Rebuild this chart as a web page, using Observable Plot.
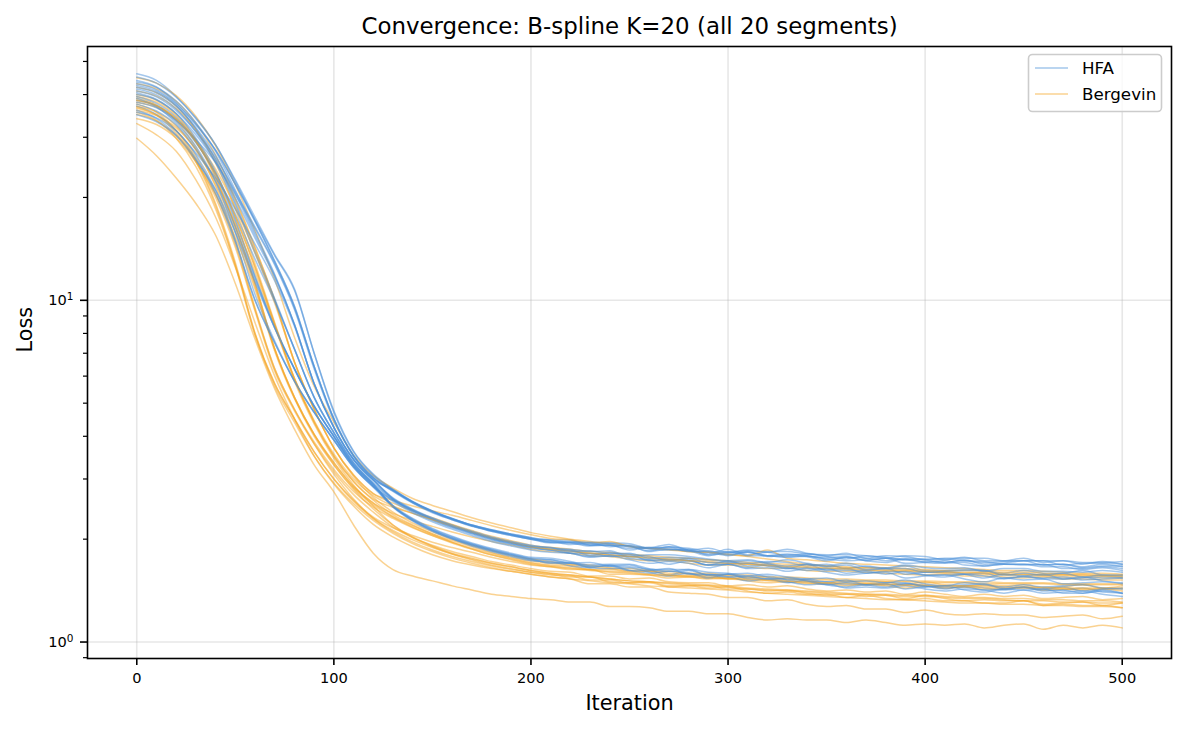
<!DOCTYPE html>
<html>
<head>
<meta charset="utf-8">
<script src="https://cdn.jsdelivr.net/npm/d3@7"></script>
<script src="https://cdn.jsdelivr.net/npm/@observablehq/plot@0.6"></script>
<style>
  body { margin: 0; background: #fff; }
  #chart svg { font-family: "DejaVu Sans", sans-serif; display: block; }
</style>
</head>
<body>
<div id="chart"></div>
<script>
// Optimisation iterations at which the loss was logged
const iterations = [0,10,20,30,40,50,60,70,80,90,100,110,120,130,140,150,160,170,180,190,200,
  210,220,230,240,250,260,270,280,290,300,310,320,330,340,350,360,370,380,390,400,
  410,420,430,440,450,460,470,480,490,500];

// Loss per segment, HFA fits (20 segments)
const hfaRuns = [
  [46,44,39.5,34,28.5,22.5,17.5,13.6,10.8,7.0,4.75,3.62,3.1, 2.8,2.58,2.42,2.3,2.2,2.13,2.07,2.02, 1.99,1.99,1.92,1.95,1.91,1.85,1.90,1.86,1.81,1.87,1.80,1.83,1.79,1.81,1.78,1.75,1.79,1.77,1.74,1.75,1.75,1.73,1.71,1.72,1.73,1.73,1.68,1.70,1.70,1.69],
  [45,43.2,39.3,34.2,28.5,22.3,17.1,13.0,9.6,6.4,4.5,3.52,3.04, 2.78,2.57,2.41,2.29,2.2,2.12,2.06,2.01, 1.99,1.96,1.96,1.95,1.94,1.88,1.90,1.88,1.84,1.83,1.86,1.83,1.87,1.82,1.79,1.82,1.76,1.79,1.78,1.74,1.76,1.76,1.76,1.73,1.73,1.73,1.73,1.71,1.71,1.72],
  [44,42.1,37.8,32.6,27.5,21.9,17.2,13.5,10.7,7.0,4.7,3.6,3.08, 2.79,2.57,2.41,2.29,2.19,2.12,2.06,2.01, 1.96,1.96,1.93,1.92,1.88,1.88,1.89,1.84,1.85,1.80,1.84,1.79,1.81,1.79,1.75,1.77,1.76,1.73,1.76,1.74,1.71,1.74,1.69,1.70,1.73,1.68,1.69,1.66,1.69,1.66],
  [43.5,42,38.3,33.1,27.3,21,15.8,11.9,8.5,5.7,4.25,3.42,2.98, 2.62,2.43,2.29,2.18,2.09,2.01,1.95,1.9, 1.89,1.85,1.81,1.82,1.81,1.78,1.73,1.76,1.74,1.72,1.70,1.72,1.71,1.67,1.69,1.64,1.67,1.64,1.67,1.62,1.62,1.63,1.62,1.59,1.62,1.59,1.59,1.62,1.57,1.56],
  [43,41.3,37.6,32.8,27.5,21.8,17,13.0,9.6,6.4,4.5,3.5,3.02, 2.78,2.56,2.41,2.29,2.19,2.12,2.06,2.0, 1.98,1.93,1.95,1.90,1.92,1.87,1.86,1.87,1.80,1.82,1.83,1.79,1.78,1.78,1.77,1.78,1.73,1.76,1.74,1.72,1.71,1.73,1.72,1.69,1.69,1.68,1.69,1.65,1.67,1.67],
  [42.5,40.9,37.2,31.8,25.8,19.3,13.9,10.1,7.2,5.2,4.1,3.35,2.93, 2.62,2.43,2.29,2.18,2.09,2.01,1.95,1.9, 1.86,1.86,1.79,1.83,1.76,1.74,1.75,1.74,1.68,1.73,1.67,1.69,1.64,1.69,1.62,1.62,1.62,1.64,1.58,1.60,1.60,1.58,1.54,1.58,1.56,1.58,1.53,1.54,1.55,1.54],
  [42,40.5,37,32,26.5,20.5,15.5,11.8,8.5,5.7,4.25,3.42,2.98, 2.79,2.57,2.42,2.3,2.2,2.13,2.07,2.02, 1.97,1.97,1.95,1.94,1.90,1.89,1.93,1.86,1.88,1.83,1.85,1.84,1.84,1.81,1.80,1.80,1.79,1.76,1.79,1.78,1.74,1.77,1.73,1.73,1.76,1.71,1.73,1.69,1.72,1.69],
  [41.5,39.9,36.3,31.1,25.3,19,13.7,10,7.2,5.2,4.1,3.35,2.9, 2.5,2.28,2.13,2.02,1.93,1.86,1.8,1.75, 1.74,1.70,1.66,1.67,1.66,1.63,1.57,1.62,1.57,1.58,1.54,1.56,1.52,1.50,1.50,1.47,1.47,1.47,1.48,1.46,1.43,1.46,1.44,1.42,1.44,1.42,1.42,1.44,1.40,1.39],
  [41,39.4,35.9,31.2,26.1,20.8,16.4,12.8,9.5,6.4,4.5,3.5,3.02, 2.77,2.56,2.4,2.28,2.19,2.11,2.05,2.0, 1.96,1.95,1.91,1.92,1.91,1.84,1.87,1.85,1.79,1.84,1.79,1.79,1.77,1.79,1.75,1.73,1.74,1.76,1.70,1.71,1.73,1.68,1.67,1.69,1.68,1.69,1.64,1.64,1.66,1.64],
  [40.5,38.7,35.2,29.8,23.8,17.3,11.8,8.4,6.3,4.9,4.0,3.3,2.9, 2.6,2.42,2.28,2.17,2.08,2.0,1.94,1.89, 1.86,1.82,1.82,1.78,1.80,1.73,1.74,1.73,1.68,1.69,1.70,1.67,1.64,1.65,1.63,1.64,1.59,1.61,1.60,1.57,1.57,1.58,1.59,1.54,1.55,1.54,1.55,1.52,1.53,1.54],
  [40,38.6,35.2,30.5,25.4,19.9,15.2,11.7,8.5,5.7,4.25,3.42,2.98, 2.64,2.45,2.31,2.2,2.11,2.03,1.97,1.92, 1.88,1.87,1.84,1.85,1.78,1.80,1.80,1.78,1.75,1.73,1.74,1.71,1.74,1.70,1.67,1.70,1.66,1.65,1.68,1.65,1.64,1.65,1.61,1.64,1.64,1.61,1.61,1.60,1.62,1.60],
  [39.5,37.7,34.3,29.1,23.3,17,11.7,8.3,6.3,4.9,4.0,3.28,2.87, 2.49,2.27,2.12,2.01,1.92,1.85,1.79,1.74, 1.71,1.71,1.65,1.68,1.62,1.59,1.61,1.59,1.54,1.58,1.53,1.53,1.49,1.52,1.47,1.45,1.47,1.48,1.43,1.45,1.46,1.42,1.40,1.43,1.42,1.43,1.39,1.39,1.41,1.39],
  [39,36.8,33,28.2,22.2,15.8,10.4,7.6,5.8,4.7,3.9,3.25,2.85, 2.6,2.41,2.27,2.16,2.07,1.99,1.93,1.88, 1.86,1.82,1.78,1.79,1.78,1.74,1.69,1.73,1.68,1.69,1.65,1.68,1.65,1.62,1.64,1.59,1.61,1.58,1.61,1.57,1.55,1.58,1.56,1.53,1.56,1.53,1.53,1.55,1.51,1.49],
  [38.5,37.1,33.7,28.9,23.6,17.9,13.2,9.9,7.2,5.2,4.1,3.33,2.9, 2.5,2.29,2.14,2.03,1.94,1.87,1.81,1.76, 1.74,1.70,1.71,1.67,1.68,1.63,1.63,1.63,1.57,1.58,1.59,1.55,1.52,1.53,1.50,1.52,1.47,1.49,1.49,1.45,1.46,1.47,1.48,1.43,1.45,1.43,1.45,1.41,1.43,1.44],
  [38,36.6,33.5,29.5,25.3,20.4,16.2,12.7,9.4,6.3,4.45,3.5,3.02, 2.76,2.55,2.39,2.28,2.18,2.11,2.05,2.0, 1.95,1.95,1.92,1.92,1.86,1.89,1.87,1.85,1.83,1.79,1.83,1.78,1.80,1.78,1.73,1.77,1.73,1.71,1.75,1.71,1.70,1.71,1.67,1.69,1.69,1.66,1.66,1.63,1.65,1.62],
  [37.5,35.8,32.6,27.7,22.3,16.4,11.5,8.3,6.3,4.9,4.0,3.28,2.86, 2.48,2.26,2.11,2.0,1.91,1.84,1.78,1.73, 1.72,1.67,1.65,1.64,1.65,1.60,1.56,1.59,1.55,1.55,1.51,1.53,1.50,1.47,1.48,1.44,1.45,1.44,1.46,1.43,1.41,1.43,1.42,1.39,1.42,1.39,1.40,1.41,1.38,1.36],
  [37,35,31.4,26.7,21,15,10,7.5,5.8,4.7,3.9,3.24,2.84, 2.49,2.27,2.12,2.01,1.93,1.86,1.8,1.75, 1.70,1.70,1.67,1.67,1.62,1.62,1.64,1.58,1.58,1.55,1.56,1.53,1.54,1.51,1.47,1.49,1.47,1.45,1.48,1.46,1.44,1.45,1.42,1.43,1.45,1.41,1.42,1.39,1.42,1.39],
  [36,34,30.5,26,20.5,14.8,10,7.5,5.8,4.7,3.9,3.25,2.85, 2.58,2.39,2.25,2.14,2.05,1.97,1.91,1.86, 1.83,1.82,1.77,1.79,1.74,1.70,1.72,1.70,1.65,1.69,1.64,1.65,1.61,1.64,1.60,1.57,1.59,1.60,1.54,1.56,1.57,1.53,1.50,1.54,1.52,1.53,1.48,1.49,1.50,1.48],
  [35.5,34.2,31.3,27,22.8,18.5,14.6,11.4,8.4,5.7,4.25,3.42,2.98, 2.63,2.44,2.3,2.19,2.1,2.02,1.96,1.91, 1.89,1.84,1.85,1.81,1.82,1.76,1.77,1.76,1.71,1.71,1.73,1.70,1.67,1.69,1.66,1.68,1.63,1.64,1.64,1.60,1.61,1.62,1.62,1.57,1.59,1.57,1.59,1.55,1.57,1.57],
  [34.9,33.3,30.3,25.7,21,15.8,11.3,8.3,6.3,4.9,4.0,3.3,2.88, 2.51,2.3,2.15,2.04,1.95,1.88,1.82,1.77, 1.76,1.72,1.68,1.69,1.69,1.64,1.61,1.63,1.60,1.59,1.56,1.58,1.55,1.53,1.54,1.50,1.51,1.49,1.52,1.48,1.46,1.49,1.47,1.45,1.47,1.45,1.46,1.47,1.44,1.43]
];

// Loss per segment, Bergevin fits (20 segments)
const bergevinRuns = [
  [44.8,43.2,39.7,34.5,28.3,21.8,16,11.5,7.8,5.6,4.4,3.52,3.07, 2.82,2.63,2.51,2.41,2.31,2.23,2.16,2.09, 2.04,2.0,1.97,1.93,1.91,1.88,1.87,1.84,1.83,1.80,1.78,1.75,1.72,1.69,1.67,1.65,1.65,1.63,1.63,1.61,1.61,1.59,1.60,1.58,1.58,1.57,1.57,1.56,1.56,1.55],
  [43,41.6,38.2,33,26.6,19.9,14.3,10,6.6,4.8,3.7,3.08,2.72, 2.6,2.5,2.42,2.35,2.27,2.19,2.12,2.06, 2.01,1.99,1.95,1.97,1.90,1.88,1.86,1.84,1.83,1.81,1.79,1.86,1.76,1.74,1.72,1.70,1.69,1.68,1.67,1.66,1.65,1.64,1.63,1.62,1.62,1.61,1.60,1.59,1.59,1.58],
  [42,40.5,37,31.6,25.2,18.5,12.8,8.6,5.9,4.4,3.5,2.95,2.62, 2.48,2.38,2.29,2.2,2.1,2.02,1.96,1.9, 1.87,1.85,1.82,1.80,1.78,1.77,1.74,1.73,1.71,1.70,1.69,1.67,1.66,1.65,1.64,1.63,1.62,1.61,1.61,1.60,1.59,1.58,1.58,1.57,1.56,1.56,1.55,1.55,1.54,1.54],
  [41,39.6,36.4,31.5,25.8,19.6,14.2,10,6.6,4.8,3.7,3.08,2.72, 2.55,2.42,2.31,2.21,2.12,2.04,1.98,1.92, 1.89,1.87,1.84,1.83,1.80,1.79,1.77,1.76,1.74,1.73,1.71,1.70,1.69,1.68,1.67,1.66,1.65,1.65,1.64,1.63,1.62,1.62,1.61,1.60,1.60,1.59,1.58,1.58,1.57,1.57],
  [40,38.5,35,29.5,23,16.5,11.2,7.2,5.2,4.05,3.35,2.85,2.55, 2.38,2.27,2.18,2.1,2.03,1.97,1.92,1.87, 1.84,1.82,1.79,1.78,1.75,1.73,1.73,1.70,1.68,1.68,1.66,1.64,1.65,1.62,1.61,1.61,1.60,1.59,1.58,1.57,1.58,1.56,1.56,1.55,1.54,1.55,1.53,1.53,1.52,1.52],
  [39.5,38,34.6,29.2,22.8,16.4,11.2,7.2,5.2,4.05,3.35,2.85,2.55, 2.33,2.19,2.07,1.98,1.9,1.83,1.77,1.73, 1.70,1.68,1.66,1.64,1.62,1.61,1.59,1.58,1.57,1.56,1.55,1.54,1.53,1.52,1.52,1.51,1.51,1.50,1.50,1.49,1.49,1.49,1.48,1.48,1.48,1.48,1.47,1.47,1.47,1.47],
  [39,37.3,33.5,28,21.5,15,9.5,6.3,4.8,3.85,3.2,2.76,2.48, 2.3,2.16,2.05,1.96,1.88,1.82,1.76,1.71, 1.68,1.67,1.63,1.63,1.61,1.61,1.57,1.56,1.57,1.53,1.55,1.52,1.54,1.51,1.49,1.51,1.49,1.50,1.47,1.50,1.47,1.46,1.47,1.46,1.47,1.44,1.45,1.47,1.44,1.46],
  [38.5,37.1,34,29.1,23.5,17.6,12.5,8.5,5.9,4.4,3.5,2.95,2.6, 2.36,2.2,2.07,1.96,1.87,1.8,1.74,1.69, 1.66,1.64,1.62,1.60,1.59,1.57,1.56,1.55,1.54,1.53,1.52,1.51,1.50,1.49,1.48,1.48,1.47,1.47,1.46,1.46,1.45,1.45,1.45,1.44,1.44,1.44,1.43,1.43,1.43,1.43],
  [38,36.7,33.8,29.4,24.2,18.7,13.8,9.8,6.6,4.8,3.7,3.05,2.65, 2.4,2.23,2.1,2.0,1.92,1.85,1.79,1.75, 1.72,1.69,1.68,1.65,1.64,1.62,1.61,1.59,1.59,1.57,1.57,1.55,1.55,1.54,1.53,1.53,1.52,1.52,1.51,1.51,1.50,1.50,1.50,1.49,1.49,1.49,1.48,1.48,1.48,1.48],
  [37.5,35.5,31.4,25.8,19.2,12.9,8.0,5.7,4.5,3.6,3.0,2.6,2.32, 2.16,2.05,1.96,1.89,1.83,1.77,1.72,1.68, 1.66,1.63,1.63,1.58,1.58,1.57,1.54,1.55,1.53,1.54,1.51,1.49,1.50,1.48,1.48,1.46,1.48,1.46,1.44,1.46,1.44,1.45,1.43,1.43,1.45,1.42,1.43,1.42,1.43,1.41],
  [37,35.6,32.4,27.5,21.8,16,11,7.2,5.2,4.05,3.3,2.8,2.45, 2.2,2.03,1.91,1.82,1.76,1.7,1.66,1.62, 1.59,1.57,1.55,1.53,1.51,1.50,1.49,1.48,1.47,1.46,1.44,1.43,1.42,1.41,1.40,1.39,1.38,1.38,1.37,1.37,1.36,1.35,1.35,1.34,1.34,1.33,1.33,1.32,1.32,1.31],
  [36.5,34.9,31.4,26.4,20.5,14.6,9.4,6.3,4.8,3.8,3.1,2.62,2.3, 2.1,1.96,1.86,1.78,1.72,1.67,1.63,1.6, 1.57,1.56,1.52,1.52,1.49,1.50,1.46,1.46,1.46,1.43,1.43,1.41,1.42,1.39,1.37,1.38,1.36,1.37,1.34,1.37,1.34,1.32,1.33,1.32,1.32,1.29,1.30,1.31,1.28,1.30],
  [36,34.7,32,27.6,22.4,16.8,12.1,8.4,5.8,4.35,3.45,2.88,2.5, 2.2,2.02,1.9,1.81,1.74,1.68,1.64,1.6, 1.58,1.55,1.55,1.50,1.49,1.49,1.45,1.46,1.44,1.45,1.41,1.39,1.40,1.38,1.38,1.35,1.37,1.34,1.33,1.34,1.32,1.32,1.30,1.30,1.32,1.28,1.29,1.28,1.28,1.26],
  [35.5,33.6,29.8,24.6,18.5,12.6,7.9,5.7,4.5,3.6,3.0,2.58,2.3, 2.12,1.99,1.89,1.81,1.75,1.7,1.66,1.62, 1.59,1.57,1.55,1.53,1.51,1.50,1.48,1.47,1.46,1.45,1.43,1.42,1.41,1.40,1.39,1.38,1.38,1.37,1.36,1.36,1.35,1.34,1.34,1.33,1.32,1.32,1.31,1.31,1.30,1.30],
  [35,33.5,30.3,25.6,20,14.3,9.3,6.2,4.75,3.8,3.15,2.7,2.4, 2.17,2.02,1.92,1.84,1.78,1.72,1.68,1.64, 1.61,1.60,1.56,1.56,1.53,1.54,1.50,1.49,1.49,1.46,1.47,1.45,1.46,1.43,1.41,1.42,1.40,1.41,1.38,1.40,1.38,1.36,1.38,1.36,1.37,1.34,1.35,1.36,1.33,1.34],
  [34,32.7,29.8,25.4,20.4,15.3,10.8,7.1,5.15,4.0,3.3,2.82,2.52, 2.32,2.17,2.05,1.95,1.87,1.8,1.75,1.7, 1.67,1.65,1.63,1.61,1.60,1.58,1.57,1.56,1.55,1.54,1.53,1.52,1.51,1.50,1.49,1.49,1.48,1.48,1.47,1.47,1.46,1.46,1.46,1.45,1.45,1.45,1.44,1.44,1.44,1.44],
  [38.5,37.1,34,29.1,23.5,17.6,12.5,8.5,5.9,4.45,3.55,3.0,2.68, 2.5,2.38,2.28,2.19,2.1,2.02,1.96,1.9, 1.87,1.84,1.82,1.80,1.78,1.76,1.75,1.73,1.72,1.70,1.69,1.68,1.67,1.66,1.65,1.64,1.63,1.62,1.62,1.61,1.60,1.60,1.59,1.58,1.58,1.57,1.57,1.57,1.56,1.56],
  [36.8,34.8,30.8,25.4,18.9,12.7,8.0,5.6,4.4,3.5,2.92,2.54,2.27, 2.08,1.94,1.84,1.76,1.7,1.65,1.61,1.58, 1.55,1.53,1.51,1.49,1.48,1.46,1.45,1.44,1.43,1.42,1.40,1.39,1.38,1.37,1.36,1.35,1.34,1.33,1.33,1.32,1.31,1.30,1.30,1.29,1.29,1.28,1.28,1.27,1.27,1.26],
  [32.9,30.5,27.3,22.5,17.5,12.5,8.6,6.0,4.5,3.5,2.9,2.5,2.21, 2.03,1.9,1.8,1.73,1.68,1.64,1.61,1.58, 1.55,1.53,1.48,1.48,1.45,1.45,1.40,1.39,1.38,1.35,1.35,1.32,1.33,1.29,1.27,1.28,1.25,1.25,1.22,1.24,1.21,1.20,1.21,1.20,1.20,1.18,1.19,1.20,1.17,1.19],
  [29.8,26.5,22.8,19.2,15.5,11.2,7.7,5.5,4.2,3.3,2.75,2.2,1.82, 1.63,1.56,1.51,1.46,1.42,1.38,1.36,1.34, 1.33,1.31,1.31,1.27,1.27,1.26,1.23,1.23,1.21,1.21,1.18,1.16,1.17,1.16,1.16,1.14,1.16,1.14,1.12,1.13,1.12,1.13,1.10,1.12,1.13,1.09,1.12,1.10,1.12,1.10]
];

const methods = ["HFA", "Bergevin"];
const methodColors = ["#4a90d9", "#f5a623"];
const xTicks = [0, 100, 200, 300, 400, 500];
const yMajorTicks = [1, 10];
const yMinorTicks = [0.9, 2, 3, 4, 5, 6, 7, 8, 9, 20, 30, 40, 50];

// Long-format rows, one line per (method, segment); segments interleaved
const rows = [];
for (let s = 0; s < hfaRuns.length; s++) {
  [[methods[0], hfaRuns[s]], [methods[1], bergevinRuns[s]]].forEach(([m, vals]) => {
    vals.forEach((v, i) => rows.push({iteration: iterations[i], loss: v, method: m, run: `${m}-${s}`}));
  });
}

const chart = Plot.plot({
  width: 1185,
  height: 735,
  marginLeft: 87,
  marginRight: 14,
  marginTop: 46,
  marginBottom: 77,
  style: {fontFamily: "DejaVu Sans, sans-serif", background: "#fff", color: "#000"},
  x: {domain: [-25, 525]},
  y: {type: "log", domain: [0.895, 55.3]},
  color: {domain: methods, range: methodColors},
  marks: [
    Plot.gridX(xTicks, {stroke: "#b0b0b0", strokeOpacity: 0.3, strokeWidth: 1.6}),
    Plot.gridY(yMajorTicks, {stroke: "#b0b0b0", strokeOpacity: 0.3, strokeWidth: 1.6}),
    Plot.line(rows, {x: "iteration", y: "loss", z: "run", stroke: "method",
      strokeOpacity: 0.5, strokeWidth: 1.5, curve: "monotone-x"}),
    Plot.frame({stroke: "#000", strokeWidth: 1.6}),
    Plot.axisX(xTicks, {tickSize: 7, tickPadding: 7, fontSize: 14.6, strokeWidth: 1.6,
      tickFormat: (d) => String(d), label: null}),
    Plot.axisY(yMajorTicks, {tickSize: 7, tickPadding: 7, fontSize: 14.6, strokeWidth: 1.6,
      tickFormat: (d) => "10^" + Math.round(Math.log10(d)), label: null}),
    Plot.axisY(yMinorTicks, {tickSize: 4, strokeWidth: 1.2, tickFormat: () => "", label: null}),
    Plot.text(["Convergence: B-spline K=20 (all 20 segments)"], {frameAnchor: "top", dy: -29, fontSize: 22.9}),
    Plot.text(["Iteration"], {frameAnchor: "bottom", dy: 51, fontSize: 20.8}),
    Plot.text(["Loss"], {frameAnchor: "left", dx: -62, rotate: -90, fontSize: 20.8})
  ]
});

// Power-of-ten tick labels: raise the exponent as a superscript
d3.select(chart).selectAll("text").each(function () {
  const m = /^10\^(-?\d+)$/.exec(this.textContent);
  if (!m) return;
  const t = d3.select(this);
  t.text("10");
  t.append("tspan").attr("dy", "-0.45em").attr("font-size", "0.72em").text(m[1]);
});

// Legend box in the upper-right corner of the axes
const legend = d3.select(chart).append("g")
  .attr("font-family", "DejaVu Sans, sans-serif").attr("text-anchor", "start");
legend.append("rect")
  .attr("x", 1028.5).attr("y", 54.5).attr("width", 133).attr("height", 57).attr("rx", 4)
  .attr("fill", "#fff").attr("fill-opacity", 0.8).attr("stroke", "#cccccc").attr("stroke-width", 1.6);
methods.forEach((m, i) => {
  const y = 68 + i * 26;
  legend.append("line")
    .attr("x1", 1035).attr("x2", 1068).attr("y1", y).attr("y2", y)
    .attr("stroke", methodColors[i]).attr("stroke-opacity", 0.5).attr("stroke-width", 1.5);
  legend.append("text")
    .attr("x", 1082).attr("y", y).attr("dy", "0.36em")
    .attr("font-size", 16.7).attr("fill", "#000").text(m);
});

document.getElementById("chart").append(chart);
</script>
</body>
</html>
